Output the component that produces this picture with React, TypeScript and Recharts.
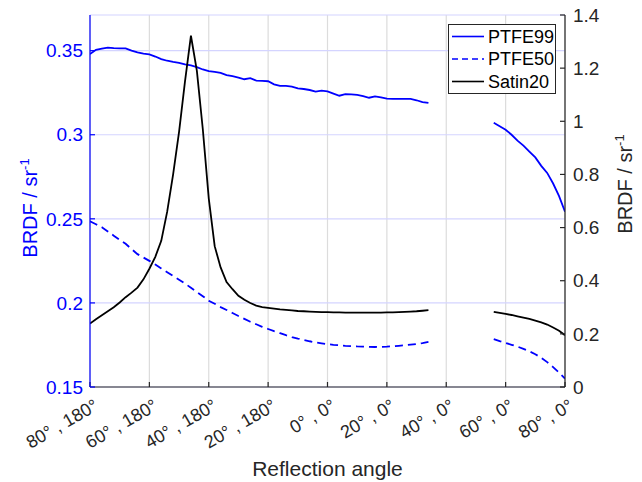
import React from "react";
import { LineChart, Line, XAxis, YAxis, CartesianGrid, Legend } from "recharts";

// Reflection angle (signed: negative = 180° azimuth side, positive = 0° side)
const angles = [
  -80, -78, -76, -74, -72, -70, -68, -66, -64, -62, -60, -58, -56, -54, -52, -50,
  -48, -46, -44, -42, -40, -38, -36, -34, -32, -30, -28, -26, -24, -22, -20, -18,
  -16, -14, -12, -10, -8, -6, -4, -2, 0, 2, 4, 6, 8, 10, 12, 14, 16, 18, 20, 22,
  24, 26, 28, 30, 32, 34, 45, 56, 58, 60, 62, 64, 66, 68, 70, 72, 74, 76, 78, 80,
];

const ptfe99 = [
  0.348, 0.3505, 0.3512, 0.3518, 0.3515, 0.3514, 0.3513, 0.35, 0.349, 0.3482, 0.3478, 0.3465,
  0.345, 0.344, 0.3433, 0.3428, 0.3418, 0.3412, 0.3402, 0.3388, 0.3378, 0.3374, 0.3368, 0.3355,
  0.3348, 0.334, 0.333, 0.3337, 0.3322, 0.332, 0.3318, 0.33, 0.329, 0.329, 0.3286, 0.3276,
  0.3272, 0.3266, 0.3257, 0.3262, 0.3258, 0.3245, 0.3232, 0.3242, 0.324, 0.3237, 0.323, 0.322,
  0.3228, 0.3222, 0.3215, 0.3213, 0.3213, 0.3213, 0.3213, 0.3205, 0.3194, 0.3189,
  null,
  0.3071, 0.305, 0.303, 0.3, 0.2965, 0.2935, 0.29, 0.2865, 0.2815, 0.2773, 0.271, 0.2635, 0.2542,
];

const ptfe50 = [
  0.2485, 0.2468, 0.245, 0.2425, 0.24, 0.2375, 0.2352, 0.232, 0.229, 0.227, 0.225, 0.2228,
  0.2205, 0.2182, 0.216, 0.2138, 0.2115, 0.209, 0.2065, 0.204, 0.2013, 0.1995, 0.1975, 0.1958,
  0.194, 0.1922, 0.1905, 0.1888, 0.1873, 0.1858, 0.1845, 0.1832, 0.182, 0.1808, 0.1797, 0.1788,
  0.178, 0.1772, 0.1765, 0.176, 0.1755, 0.1751, 0.1748, 0.1745, 0.1743, 0.1741, 0.174, 0.1739,
  0.1738, 0.1739, 0.174, 0.1742, 0.1745, 0.1748, 0.1752, 0.1756, 0.1761, 0.1768,
  null,
  0.1785, 0.1773, 0.1762, 0.1751, 0.174, 0.1727, 0.1712, 0.1695, 0.1673, 0.1648, 0.1618, 0.1585, 0.155,
];

const satin20 = [
  0.239, 0.255, 0.27, 0.285, 0.3, 0.318, 0.338, 0.355, 0.374, 0.405, 0.445, 0.49, 0.55, 0.66,
  0.8, 0.96, 1.15, 1.322, 1.19, 0.97, 0.71, 0.53, 0.45, 0.395, 0.368, 0.343, 0.328, 0.316,
  0.306, 0.301, 0.298, 0.295, 0.292, 0.29, 0.288, 0.286, 0.285, 0.284, 0.283, 0.282, 0.282,
  0.281, 0.281, 0.28, 0.28, 0.28, 0.28, 0.28, 0.28, 0.28, 0.281, 0.281, 0.282, 0.283, 0.284,
  0.285, 0.287, 0.289,
  null,
  0.283, 0.279, 0.275, 0.271, 0.266, 0.261, 0.256, 0.25, 0.243, 0.235, 0.224, 0.212, 0.195,
];

const xTicks = [-80, -60, -40, -20, 0, 20, 40, 60, 80];
const xTickLabels = [
  "80° , 180°", "60° , 180°", "40° , 180°", "20° , 180°", "0° , 0°",
  "20° , 0°", "40° , 0°", "60° , 0°", "80° , 0°",
];
const leftTicks = [0.15, 0.2, 0.25, 0.3, 0.35];
const rightTicks = [0, 0.2, 0.4, 0.6, 0.8, 1, 1.2, 1.4];

const seriesNames = ["PTFE99", "PTFE50", "Satin20"];

const rows = angles.map((a, i) => ({
  angle: a,
  ptfe99: ptfe99[i],
  ptfe50: ptfe50[i],
  satin20: satin20[i],
}));

const FONT = "'Liberation Sans', Arial, Helvetica, sans-serif";
const DARK = "#262626";
const BLUE = "#0000ff";

const XTick = (props: any) => {
  const { x, payload } = props;
  const idx = xTicks.indexOf(payload.value);
  const label = idx >= 0 ? xTickLabels[idx] : String(payload.value);
  const ax = x + 3;
  const ay = 398;
  return (
    <text
      x={ax}
      y={ay}
      dy="0.72em"
      textAnchor="end"
      transform={`rotate(-30, ${ax}, ${ay})`}
      fontFamily={FONT}
      fontSize={18}
      fill={DARK}
    >
      {label}
    </text>
  );
};

const LegendBox = () => {
  const styles = [
    { stroke: BLUE, dash: undefined },
    { stroke: BLUE, dash: "6 4" },
    { stroke: "#000000", dash: undefined },
  ];
  const rowY = [12.5, 35, 57.5];
  return (
    <svg width={108} height={70} style={{ display: "block" }}>
      <rect x={0.5} y={0.5} width={107} height={69} fill="#ffffff" stroke={DARK} strokeWidth={1} />
      {seriesNames.map((n, i) => (
        <g key={n}>
          <line
            x1={4}
            x2={36}
            y1={rowY[i]}
            y2={rowY[i]}
            stroke={styles[i].stroke}
            strokeWidth={1.6}
            strokeDasharray={styles[i].dash}
          />
          <text x={40} y={rowY[i]} dy="0.35em" fontFamily={FONT} fontSize={18} fill="#000">
            {n}
          </text>
        </g>
      ))}
    </svg>
  );
};

const LeftLabel = () => (
  <text
    x={37}
    y={208}
    textAnchor="middle"
    transform="rotate(-90, 37, 208)"
    fontFamily={FONT}
    fontSize={20}
    fill={BLUE}
  >
    BRDF / sr
    <tspan dy={-8} fontSize={13}>-1</tspan>
  </text>
);

const RightLabel = () => (
  <text
    x={632}
    y={184}
    textAnchor="middle"
    transform="rotate(-90, 632, 184)"
    fontFamily={FONT}
    fontSize={20}
    fill={DARK}
  >
    BRDF / sr
    <tspan dy={-8} fontSize={13}>-1</tspan>
  </text>
);

const XLabel = () => (
  <text x={327.5} y={476} textAnchor="middle" fontFamily={FONT} fontSize={21} fill={DARK}>
    Reflection angle
  </text>
);

export default function App() {
  return (
    <div style={{ position: "absolute", left: 0, top: 0, background: "#fff" }}>
      <LineChart
        width={642}
        height={482}
        data={rows}
        margin={{ top: 15, right: 0, bottom: 0, left: 0 }}
      >
        <CartesianGrid
          xAxisId="bottom"
          yAxisId="left"
          horizontal={false}
          vertical={true}
          stroke="#dcdcdc"
          strokeWidth={1.2}
        />
        <CartesianGrid
          xAxisId="bottom"
          yAxisId="left"
          horizontal={true}
          vertical={false}
          stroke="#d4d4ff"
          strokeWidth={1.2}
        />
        <XAxis
          xAxisId="bottom"
          dataKey="angle"
          type="number"
          domain={[-80, 80]}
          ticks={xTicks}
          interval={0}
          allowDataOverflow
          height={95}
          orientation="bottom"
          axisLine={{ stroke: DARK, strokeWidth: 1.2 }}
          tickLine={{ stroke: DARK, strokeWidth: 1.2 }}
          tickSize={-5}
          tickMargin={5}
          tick={<XTick />}
          label={<XLabel />}
        />
        <XAxis
          xAxisId="top"
          dataKey="angle"
          type="number"
          domain={[-80, 80]}
          ticks={xTicks}
          interval={0}
          allowDataOverflow
          height={0}
          orientation="top"
          axisLine={{ stroke: DARK, strokeWidth: 1.2 }}
          tickLine={{ stroke: DARK, strokeWidth: 1.2 }}
          tickSize={-5}
          tick={false}
        />
        <YAxis
          yAxisId="left"
          orientation="left"
          type="number"
          domain={[0.15, 0.3712]}
          allowDataOverflow
          ticks={leftTicks}
          interval={0}
          width={90}
          axisLine={{ stroke: BLUE, strokeWidth: 1.2 }}
          tickLine={{ stroke: BLUE, strokeWidth: 1.2 }}
          tickSize={-5}
          tickMargin={12}
          tick={{ fill: BLUE, fontSize: 19, fontFamily: FONT }}
          label={<LeftLabel />}
        />
        <YAxis
          yAxisId="right"
          orientation="right"
          type="number"
          domain={[0, 1.4]}
          allowDataOverflow
          ticks={rightTicks}
          interval={0}
          width={77}
          axisLine={{ stroke: DARK, strokeWidth: 1.2 }}
          tickLine={{ stroke: DARK, strokeWidth: 1.2 }}
          tickSize={-5}
          tickMargin={13}
          tick={{ fill: DARK, fontSize: 19, fontFamily: FONT }}
          label={<RightLabel />}
        />
        <Line
          xAxisId="bottom"
          yAxisId="left"
          type="linear"
          dataKey="ptfe99"
          name="PTFE99"
          stroke={BLUE}
          strokeWidth={1.8}
          dot={false}
          activeDot={false}
          connectNulls={false}
          isAnimationActive={false}
        />
        <Line
          xAxisId="bottom"
          yAxisId="left"
          type="linear"
          dataKey="ptfe50"
          name="PTFE50"
          stroke={BLUE}
          strokeWidth={1.8}
          strokeDasharray="8 5"
          dot={false}
          activeDot={false}
          connectNulls={false}
          isAnimationActive={false}
        />
        <Line
          xAxisId="bottom"
          yAxisId="right"
          type="linear"
          dataKey="satin20"
          name="Satin20"
          stroke="#000000"
          strokeWidth={1.8}
          dot={false}
          activeDot={false}
          connectNulls={false}
          isAnimationActive={false}
        />
        <Legend
          layout="vertical"
          align="center"
          verticalAlign="middle"
          wrapperStyle={{ left: 448, top: 24, width: 108, height: 70 }}
          content={<LegendBox />}
        />
      </LineChart>
    </div>
  );
}
